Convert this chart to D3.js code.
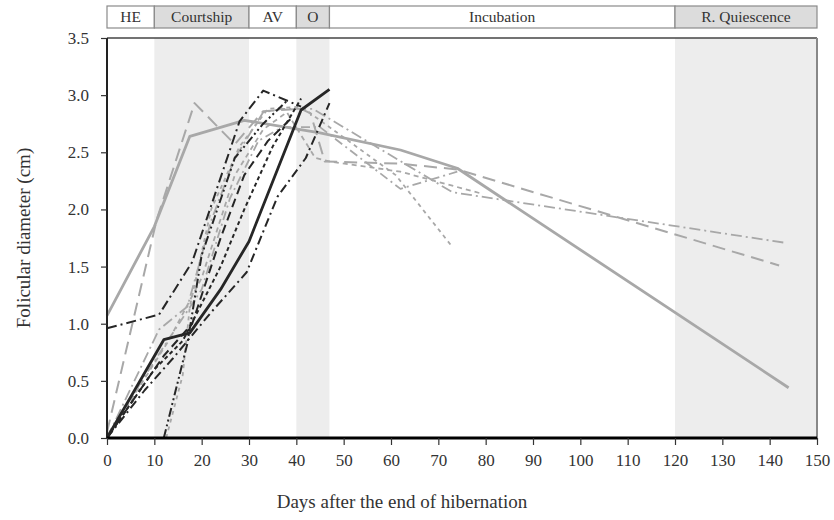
<!DOCTYPE html>
<html><head><meta charset="utf-8">
<script src="https://cdn.jsdelivr.net/npm/d3@7"></script>
<style>body{margin:0;background:#fff}svg{display:block}</style>
</head><body><svg id="c" width="834" height="520"></svg>
<script>
// ---- data ----
const phaseNames = ["HE","Courtship","AV","O","Incubation","R. Quiescence"];
const phaseStart = [0,10,30,40,47,120];
const phaseEnd   = [10,30,40,47,120,150];
const phaseShaded = [false,true,false,true,false,true];

const xTicks = [0,10,20,30,40,50,60,70,80,90,100,110,120,130,140,150];
const yTicks = [0,0.5,1.0,1.5,2.0,2.5,3.0,3.5];

const s1Days = [0,10,17.5,29,45,62,74,144];
const s1Vals = [1.07,1.85,2.64,2.78,2.67,2.52,2.36,0.44];
const s2Days = [0,10.5,18.5,27,33,41,43,46,62,74,142];
const s2Vals = [0.05,1.91,2.93,2.57,2.86,2.88,2.84,2.42,2.40,2.35,1.51];
const s3Days = [0,12,17.5,24,30,41,47];
const s3Vals = [0,0.86,0.92,1.3,1.72,2.87,3.05];
const s4Days = [0,11,18,28,33,41];
const s4Vals = [0.96,1.08,1.54,2.77,3.04,2.9];
const s5Days = [12,17,20,27,33,38];
const s5Vals = [0,0.83,1.6,2.45,2.75,2.95];
const s6Days = [0,8,14,22,29.5,36,42,47];
const s6Vals = [0,0.42,0.7,1.1,1.45,2.11,2.45,2.93];
const s7Days = [0,10,16,24,29,35,41];
const s7Vals = [0,0.6,0.85,1.5,2.0,2.55,2.97];
const s8Days = [0,12,18,24,29,34,39];
const s8Vals = [0,0.72,1.0,1.75,2.3,2.6,2.8];
const s9Days = [0,11,17,22,27,33,37,43.5,73,143];
const s9Vals = [0,0.95,1.15,1.9,2.45,2.85,2.88,2.88,2.15,1.71];
const s10Days = [12.5,16,17.5,22,28,34,41,61,73];
const s10Vals = [0,0.55,1.15,2.0,2.55,2.88,2.9,2.3,1.67];
const s11Days = [0,12,20,26,32,37,45,62,74];
const s11Vals = [0.02,0.8,1.3,2.1,2.6,2.72,2.72,2.18,2.33];
const s12Days = [0,13,20,27,33,38,44,47,62,79];
const s12Vals = [0,0.85,1.4,2.3,2.7,2.85,2.45,2.42,2.33,2.14];

const DARK = "#262626", GRAY = "#a8a8a8";
const series = [
  {d:s12Days,v:s12Vals,c:GRAY,w:1.8,dash:"5,4"},
  {d:s11Days,v:s11Vals,c:GRAY,w:1.8,dash:"9,4,2,4"},
  {d:s10Days,v:s10Vals,c:GRAY,w:1.8,dash:"4,4"},
  {d:s9Days,v:s9Vals,c:GRAY,w:1.8,dash:"11,4,2,4"},
  {d:s2Days,v:s2Vals,c:GRAY,w:2,dash:"13,7"},
  {d:s1Days,v:s1Vals,c:GRAY,w:2.8,dash:null},
  {d:s8Days,v:s8Vals,c:DARK,w:2,dash:"9,5"},
  {d:s7Days,v:s7Vals,c:DARK,w:2,dash:"4,3"},
  {d:s6Days,v:s6Vals,c:DARK,w:2,dash:"9,4,2,4"},
  {d:s5Days,v:s5Vals,c:DARK,w:2,dash:"9,3,2,3,2,3"},
  {d:s4Days,v:s4Vals,c:DARK,w:2,dash:"10,4,2,4"},
  {d:s3Days,v:s3Vals,c:DARK,w:2.8,dash:null}
];

// ---- layout ----
const svg = d3.select("#c");
const L=107, R=817, T=38, B=438;
const x = d3.scaleLinear().domain([0,150]).range([L,R]);
const y = d3.scaleLinear().domain([0,3.5]).range([B,T]);
const serif = "'Liberation Serif','Times New Roman',serif";

phaseNames.forEach((n,i)=>{
  if(phaseShaded[i]) svg.append("rect").attr("x",x(phaseStart[i])).attr("y",T)
    .attr("width",x(phaseEnd[i])-x(phaseStart[i])).attr("height",B-T).attr("fill","#ededed");
});

const barTop=6, barH=22;
phaseNames.forEach((n,i)=>{
  svg.append("rect").attr("x",x(phaseStart[i])).attr("y",barTop)
    .attr("width",x(phaseEnd[i])-x(phaseStart[i])).attr("height",barH)
    .attr("fill",phaseShaded[i]?"#dcdcdc":"#fff").attr("stroke","#8a8a8a").attr("stroke-width",1.2);
  svg.append("text").attr("x",(x(phaseStart[i])+x(phaseEnd[i]))/2).attr("y",barTop+barH/2+5)
    .attr("text-anchor","middle").attr("font-family",serif).attr("font-size",15.5).attr("fill","#333").text(n);
});

const line = d3.line().x(p=>x(p[0])).y(p=>y(p[1]));
series.forEach(s=>{
  const pts = s.d.map((dd,i)=>[dd,s.v[i]]);
  svg.append("path").attr("d",line(pts)).attr("fill","none").attr("stroke",s.c)
    .attr("stroke-width",s.w).attr("stroke-dasharray",s.dash).attr("stroke-linejoin","round");
});

svg.append("line").attr("x1",L).attr("x2",R).attr("y1",T).attr("y2",T).attr("stroke","#444").attr("stroke-width",1.5);
svg.append("line").attr("x1",R).attr("x2",R).attr("y1",T).attr("y2",B).attr("stroke","#888").attr("stroke-width",2);

const yAxis = d3.axisLeft(y).tickValues(yTicks).tickFormat(d3.format(".1f")).tickSize(6).tickPadding(12);
const gy = svg.append("g").attr("transform",`translate(${L},0)`).call(yAxis);
const xAxis = d3.axisBottom(x).tickValues(xTicks).tickFormat(d3.format("d")).tickSize(7).tickPadding(9);
const gx = svg.append("g").attr("transform",`translate(0,${B})`).call(xAxis);
[gx,gy].forEach(g=>{
  g.selectAll("text").attr("font-family",serif).attr("font-size",17).attr("fill","#333");
  g.selectAll(".tick line").attr("stroke","#333").attr("stroke-width",1.2);
});
gy.select(".domain").attr("stroke","#222").attr("stroke-width",2).attr("d",`M0,${T}V${B}`);
gx.select(".domain").attr("stroke","#000").attr("stroke-width",3).attr("d",`M${L},0H${R}`);

svg.append("text").attr("x",(L+R)/2-60).attr("y",508).attr("text-anchor","middle")
  .attr("font-family",serif).attr("font-size",19).attr("fill","#333").text("Days after the end of hibernation");
svg.append("text").attr("transform",`translate(30,${(T+B)/2}) rotate(-90)`).attr("text-anchor","middle")
  .attr("font-family",serif).attr("font-size",19).attr("fill","#333").text("Folicular diameter (cm)");
</script></body></html>
